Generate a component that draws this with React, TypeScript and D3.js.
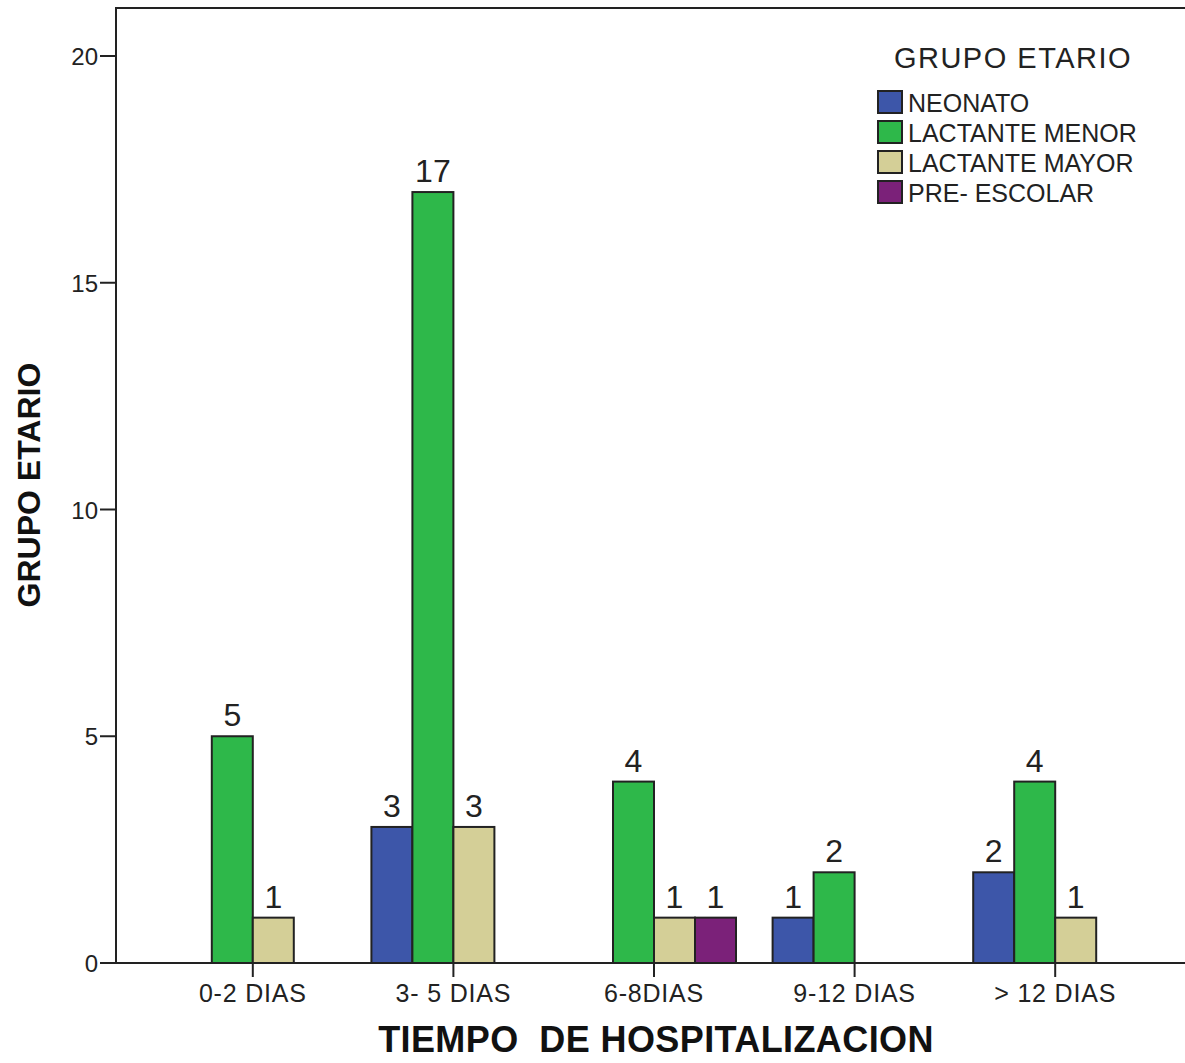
import { useEffect, useRef } from "react";
import * as d3 from "d3";

const categories = ["0-2 DIAS", "3- 5 DIAS", "6-8DIAS", "9-12 DIAS", "> 12 DIAS"];
const groups = ["NEONATO", "LACTANTE MENOR", "LACTANTE MAYOR", "PRE- ESCOLAR"];
const colors = ["#3d56a9", "#2eb84a", "#d4cf97", "#7b2179"];
// counts per group for each category (null = no bar)
const neonato = [null, 3, null, 1, 2];
const lactanteMenor = [5, 17, 4, 2, 4];
const lactanteMayor = [1, 3, 1, null, 1];
const preEscolar = [null, null, 1, null, null];
const yTicks = [0, 5, 10, 15, 20];

const W = 1185;
const H = 1063;

const App = () => {
  const svgRef = useRef<SVGSVGElement>(null);

  useEffect(() => {
    if (!svgRef.current) return;
    const svg = d3.select(svgRef.current);
    svg.selectAll("*").remove();

    const left = 116;
    const top = 8;
    const bottom = 963;
    const font = "'Liberation Sans', Arial, sans-serif";

    const y = d3.scaleLinear().domain([0, 20]).range([bottom, 56]);
    const x = d3.scaleBand<string>().domain(categories).range([152.5, 1155.5]);
    const slot = 41;
    const x1 = d3
      .scaleBand<string>()
      .domain(groups)
      .range([x.bandwidth() / 2 - 2 * slot, x.bandwidth() / 2 + 2 * slot]);

    const series = [neonato, lactanteMenor, lactanteMayor, preEscolar];

    // frame
    svg.append("path")
      .attr("d", `M${left},${bottom}V${top}H${W}`)
      .attr("fill", "none")
      .attr("stroke", "#222")
      .attr("stroke-width", 2);

    // bars
    const g = svg.append("g");
    series.forEach((vals, si) => {
      vals.forEach((v, ci) => {
        if (v == null) return;
        const bx = (x(categories[ci]) ?? 0) + (x1(groups[si]) ?? 0);
        g.append("rect")
          .attr("x", bx)
          .attr("y", y(v))
          .attr("width", x1.bandwidth())
          .attr("height", bottom - y(v))
          .attr("fill", colors[si])
          .attr("stroke", "#222")
          .attr("stroke-width", 2);
        g.append("text")
          .attr("x", bx + x1.bandwidth() / 2)
          .attr("y", y(v) - 10)
          .attr("text-anchor", "middle")
          .attr("font-family", font)
          .attr("font-size", 32)
          .attr("fill", "#222")
          .text(v);
      });
    });

    // x axis
    svg.append("line")
      .attr("x1", left).attr("x2", W)
      .attr("y1", bottom).attr("y2", bottom)
      .attr("stroke", "#222").attr("stroke-width", 2);
    categories.forEach((c) => {
      const cx = (x(c) ?? 0) + x.bandwidth() / 2;
      svg.append("line")
        .attr("x1", cx).attr("x2", cx)
        .attr("y1", bottom).attr("y2", bottom + 14)
        .attr("stroke", "#222").attr("stroke-width", 2);
      svg.append("text")
        .attr("x", cx)
        .attr("y", 1002)
        .attr("text-anchor", "middle")
        .attr("font-family", font)
        .attr("font-size", 25)
        .attr("letter-spacing", 0.8)
        .attr("fill", "#222")
        .text(c);
    });

    // y axis ticks
    yTicks.forEach((t) => {
      svg.append("line")
        .attr("x1", left - 16).attr("x2", left)
        .attr("y1", y(t)).attr("y2", y(t))
        .attr("stroke", "#222").attr("stroke-width", 2);
      svg.append("text")
        .attr("x", left - 18)
        .attr("y", y(t) + 9)
        .attr("text-anchor", "end")
        .attr("font-family", font)
        .attr("font-size", 24)
        .attr("fill", "#222")
        .text(t);
    });

    // axis titles
    svg.append("text")
      .attr("transform", `translate(40,485) rotate(-90)`)
      .attr("text-anchor", "middle")
      .attr("font-family", font)
      .attr("font-weight", "bold")
      .attr("font-size", 32)
      .attr("fill", "#111")
      .text("GRUPO ETARIO");
    svg.append("text")
      .attr("x", 656)
      .attr("y", 1052)
      .attr("text-anchor", "middle")
      .attr("font-family", font)
      .attr("font-weight", "bold")
      .attr("font-size", 36)
      .attr("letter-spacing", 0.4)
      .attr("fill", "#111")
      .style("white-space", "pre")
      .text("TIEMPO  DE HOSPITALIZACION");

    // legend
    const lg = svg.append("g");
    lg.append("text")
      .attr("x", 1013)
      .attr("y", 68)
      .attr("text-anchor", "middle")
      .attr("font-family", font)
      .attr("font-size", 29)
      .attr("letter-spacing", 1.5)
      .attr("fill", "#222")
      .text("GRUPO ETARIO");
    groups.forEach((gr, i) => {
      const ly = 91 + i * 30;
      lg.append("rect")
        .attr("x", 878).attr("y", ly)
        .attr("width", 24).attr("height", 22)
        .attr("fill", colors[i])
        .attr("stroke", "#222").attr("stroke-width", 2);
      lg.append("text")
        .attr("x", 908)
        .attr("y", ly + 21)
        .attr("font-family", font)
        .attr("font-size", 25)
        .attr("fill", "#222")
        .text(gr);
    });
  }, []);

  return (
    <svg
      ref={svgRef}
      width={W}
      height={H}
      style={{ position: "absolute", left: 0, top: 0, background: "#fff" }}
    ></svg>
  );
};

export default App;
